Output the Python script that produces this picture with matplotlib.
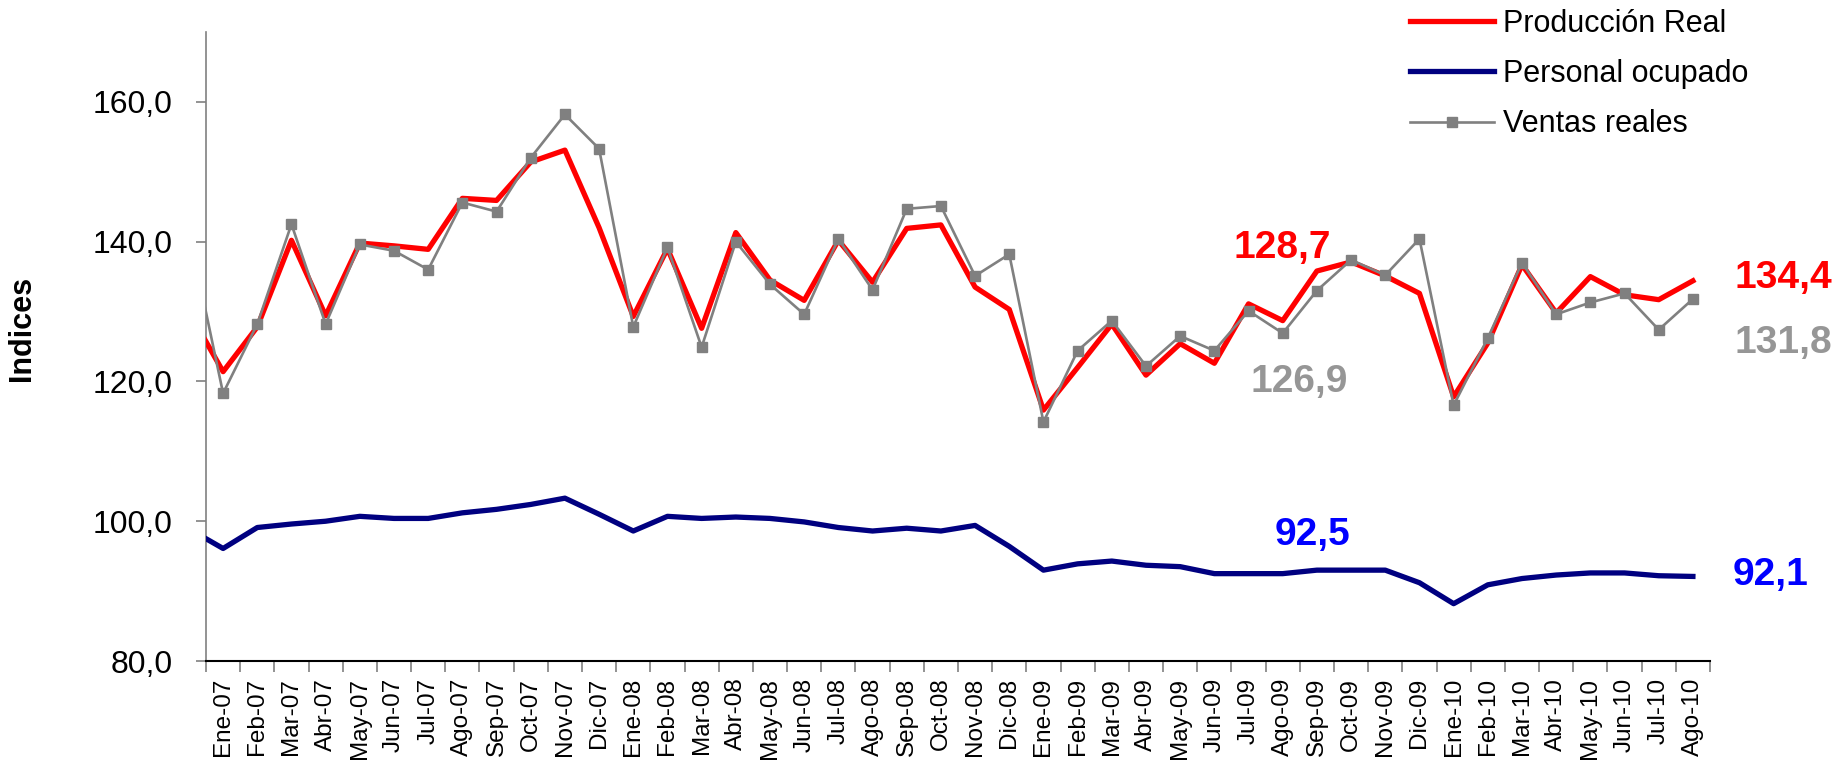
import numpy as np
import matplotlib
matplotlib.use('Agg')
import matplotlib.pyplot as plt

plt.rcParams['font.family'] = ['Liberation Sans', 'DejaVu Sans']

# Meses (el primer valor de cada serie es Dic-06, queda recortado en el eje)
meses = ['Ene-07', 'Feb-07', 'Mar-07', 'Abr-07', 'May-07', 'Jun-07', 'Jul-07', 'Ago-07',
         'Sep-07', 'Oct-07', 'Nov-07', 'Dic-07',
         'Ene-08', 'Feb-08', 'Mar-08', 'Abr-08', 'May-08', 'Jun-08', 'Jul-08', 'Ago-08',
         'Sep-08', 'Oct-08', 'Nov-08', 'Dic-08',
         'Ene-09', 'Feb-09', 'Mar-09', 'Abr-09', 'May-09', 'Jun-09', 'Jul-09', 'Ago-09',
         'Sep-09', 'Oct-09', 'Nov-09', 'Dic-09',
         'Ene-10', 'Feb-10', 'Mar-10', 'Abr-10', 'May-10', 'Jun-10', 'Jul-10', 'Ago-10']

produccion = [130.0,
              121.4, 127.8, 140.2, 129.4, 139.8, 139.4, 138.9, 146.2, 145.9, 151.4, 153.1, 142.0,
              129.3, 139.0, 127.6, 141.3, 134.5, 131.6, 140.2, 134.2, 141.9, 142.4, 133.5, 130.3,
              115.9, 122.0, 128.2, 120.9, 125.4, 122.6, 131.1, 128.7, 135.8, 137.1, 135.1, 132.6,
              117.8, 125.5, 136.7, 129.8, 135.0, 132.4, 131.7, 134.4]

personal = [98.9,
            96.1, 99.1, 99.6, 100.0, 100.7, 100.4, 100.4, 101.2, 101.7, 102.4, 103.3, 101.0,
            98.6, 100.7, 100.4, 100.6, 100.4, 99.9, 99.1, 98.6, 99.0, 98.6, 99.4, 96.4,
            93.0, 93.9, 94.3, 93.7, 93.5, 92.5, 92.5, 92.5, 93.0, 93.0, 93.0, 91.2,
            88.2, 90.9, 91.8, 92.3, 92.6, 92.6, 92.2, 92.1]

ventas = [141.5,
          118.3, 128.2, 142.5, 128.2, 139.6, 138.7, 136.0, 145.6, 144.3, 152.0, 158.2, 153.3,
          127.8, 139.2, 124.9, 140.0, 133.9, 129.6, 140.4, 133.1, 144.7, 145.1, 135.1, 138.2,
          114.2, 124.4, 128.7, 122.2, 126.5, 124.4, 130.1, 126.9, 133.0, 137.4, 135.2, 140.4,
          116.6, 126.2, 137.0, 129.6, 131.3, 132.6, 127.4, 131.8]

x = np.arange(-1, len(meses)) + 0.5

fig = plt.figure(figsize=(18.34, 7.76), dpi=100)
ax = fig.add_axes([206 / 1834, 1 - 661 / 776, 1504 / 1834, 629 / 776])

ax.plot(x, produccion, color='#FF0000', lw=3.8, label='Producción Real', zorder=3)
ax.plot(x, personal, color='#000080', lw=3.8, label='Personal ocupado', zorder=3)
ax.plot(x, ventas, color='#808080', lw=1.9, marker='s', markersize=7.5,
        label='Ventas reales', zorder=4)

ax.set_xlim(0, len(meses))
ax.set_ylim(80, 170)

# eje y
ax.set_yticks(np.arange(80, 161, 20))
ax.set_yticklabels([f'{v:.1f}'.replace('.', ',') for v in np.arange(80, 161, 20)])
ax.tick_params(axis='y', length=7, width=1.2, color='#808080', pad=17, labelsize=23)

# eje x: marcas en los limites, etiquetas centradas
ax.set_xticks(np.arange(0, len(meses) + 1))
ax.set_xticklabels([])
ax.set_xticks(np.arange(len(meses)) + 0.5, minor=True)
ax.set_xticklabels(meses, minor=True, rotation=90, fontsize=17.5, va='top')
ax.tick_params(axis='x', which='major', length=8, width=1.2, color='#808080')
ax.tick_params(axis='x', which='minor', length=0, pad=12)

ax.spines['top'].set_visible(False)
ax.spines['right'].set_visible(False)
ax.spines['left'].set_color('#808080')
ax.spines['left'].set_linewidth(1.2)
ax.spines['bottom'].set_color('black')
ax.spines['bottom'].set_linewidth(1.5)

fig.text(22 / 1834, 1 - 328 / 776, 'Indices', rotation=90, fontsize=22,
         fontweight='bold', ha='center', va='center')

def etiqueta(i, serie, color, dx, dy):
    v = serie[i + 1]
    ax.annotate(f'{v:.1f}'.replace('.', ','), xy=(x[i + 1], v), xytext=(dx, dy),
                textcoords='offset points', color=color, fontsize=28,
                fontweight='bold', ha='center', va='center', annotation_clip=False)

ago09 = meses.index('Ago-09')
ago10 = meses.index('Ago-10')
etiqueta(ago09, produccion, '#FF0000', 0, 52)
etiqueta(ago09, ventas, '#969696', 11.5, -35)
etiqueta(ago09, personal, '#0000FF', 21.6, 28)
etiqueta(ago10, produccion, '#FF0000', 65, 2)
etiqueta(ago10, ventas, '#969696', 65, -32)
etiqueta(ago10, personal, '#0000FF', 56, 1)

fig.legend(loc='upper left', bbox_to_anchor=(1410 / 1834, 1 - 9 / 776),
           frameon=False, fontsize=22, handlelength=2.75, handletextpad=0.3,
           labelspacing=0.66, borderpad=0, borderaxespad=0)

fig.savefig('out.png', dpi=100)
